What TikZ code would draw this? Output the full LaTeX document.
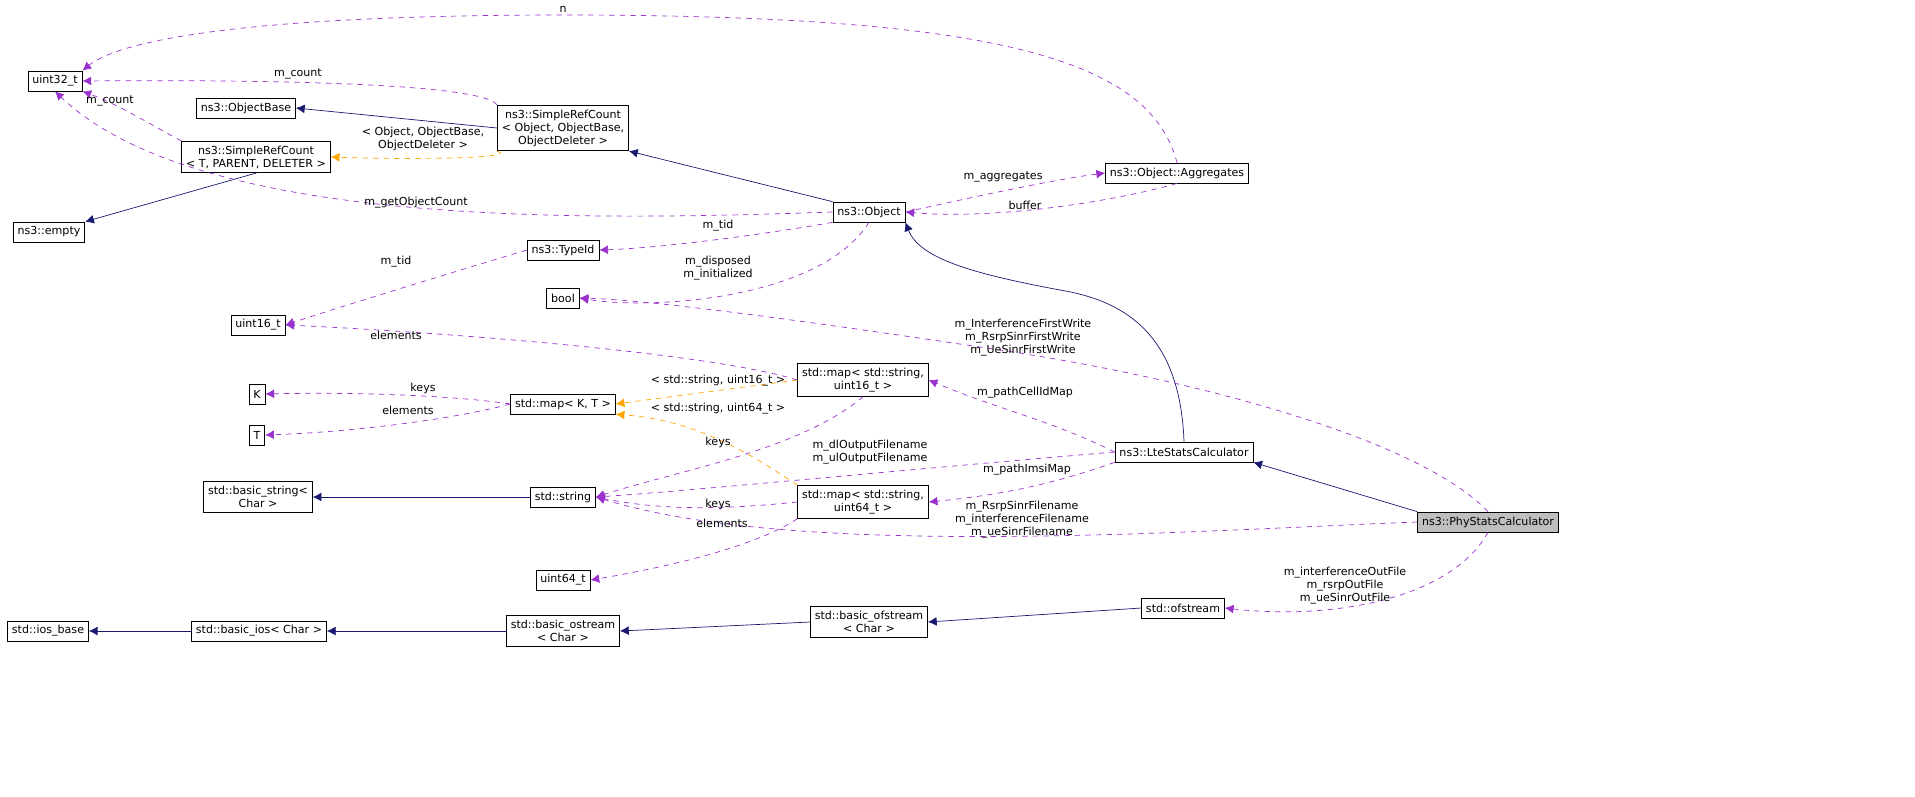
\documentclass[tikz,border=0pt]{standalone}
\usepackage{fontspec}
\setmainfont{DejaVu Sans}
\usetikzlibrary{arrows.meta}

\definecolor{inhblue}{HTML}{191970}
\definecolor{usepurple}{HTML}{9A32CD}
\definecolor{tplorange}{HTML}{FFA500}

\tikzset{
  cls/.style={draw,thin,fill=white,font=\fontsize{6.3}{7.4}\selectfont,align=center,minimum height=0.4cm,inner sep=2.5pt},
  inh/.style={draw=inhblue,thin,-{Latex[length=5pt,width=5pt]}},
  use/.style={draw=usepurple,thin,dashed,-{Latex[length=5pt,width=5pt]}},
  tpl/.style={draw=tplorange,thin,dashed,-{Latex[length=5pt,width=5pt]}},
  lbl/.style={font=\fontsize{6.3}{7.4}\selectfont,align=center,inner sep=0pt}
}

\begin{document}
\begin{tikzpicture}[x=0.02cm,y=-0.02cm]
\useasboundingbox (0,0) rectangle (1915,796);

% classes
\node[cls] (u32)    at (55,81)    {uint32\_t};
\node[cls] (objb)   at (246,108)  {ns3::ObjectBase};
\node[cls] (srcobj) at (563,128)  {ns3::SimpleRefCount\\< Object, ObjectBase,\\ObjectDeleter >};
\node[cls] (srct)   at (256,157)  {ns3::SimpleRefCount\\< T, PARENT, DELETER >};
\node[cls] (empty)  at (49,232)   {ns3::empty};
\node[cls] (obj)    at (869,212)  {ns3::Object};
\node[cls] (aggr)   at (1177,173) {ns3::Object::Aggregates};
\node[cls] (tid)    at (563,250)  {ns3::TypeId};
\node[cls] (bool)   at (563,298)  {bool};
\node[cls] (u16)    at (258,325)  {uint16\_t};
\node[cls] (K)      at (257,394)  {K};
\node[cls] (T)      at (257,435)  {T};
\node[cls] (mapkt)  at (563,404)  {std::map< K, T >};
\node[cls] (map16)  at (863,380)  {std::map< std::string,\\uint16\_t >};
\node[cls] (lte)    at (1184,452) {ns3::LteStatsCalculator};
\node[cls] (bstr)   at (258,497)  {std::basic\_string<\\Char >};
\node[cls] (str)    at (563,497)  {std::string};
\node[cls] (map64)  at (863,502)  {std::map< std::string,\\uint64\_t >};
\node[cls,fill=black!25] (phy) at (1488,522) {ns3::PhyStatsCalculator};
\node[cls] (u64)    at (563,580)  {uint64\_t};
\node[cls] (iosb)   at (48,631)   {std::ios\_base};
\node[cls] (bios)   at (259,631)  {std::basic\_ios< Char >};
\node[cls] (bos)    at (563,631)  {std::basic\_ostream\\< Char >};
\node[cls] (bofs)   at (869,622)  {std::basic\_ofstream\\< Char >};
\node[cls] (ofs)    at (1183,608) {std::ofstream};

% inheritance
\draw[inh] (srcobj.west) -- (objb.east);
\draw[inh] (srct.south) -- (empty.north east);
\draw[inh] (obj.north west) -- (srcobj.south east);
\draw[inh] (lte.north) .. controls (1180,330) and (1120,300) .. (1060,290) .. controls (980,275) and (920,260) .. (obj.south east);
\draw[inh] (phy.north west) -- (lte.south east);
\draw[inh] (str.west) -- (bstr.east);
\draw[inh] (bios.west) -- (iosb.east);
\draw[inh] (bos.west) -- (bios.east);
\draw[inh] (bofs.west) -- (bos.east);
\draw[inh] (ofs.west) -- (bofs.east);

% template instances
\draw[tpl] (srcobj.south west) .. controls (520,158) and (420,160) .. (srct.east);
\draw[tpl] (map16.west) -- (mapkt.east);
\draw[tpl] (map64.north west) .. controls (760,460) and (700,420) .. (mapkt.south east);

% usage
\draw[use] (aggr.north) .. controls (1150,60) and (1000,15) .. (563,15) .. controls (250,15) and (120,40) .. (u32.north east);
\draw[use] (srcobj.north west) .. controls (480,80) and (200,80) .. (u32.east);
\draw[use] (srct.north west) .. controls (160,130) and (120,105) .. (u32.south east);
\draw[use] (obj.west) .. controls (600,220) and (200,230) .. (u32.south);
\draw[use] (obj.east) .. controls (960,200) and (1050,180) .. (aggr.west);
\draw[use] (aggr.south) .. controls (1120,200) and (1000,220) .. (obj.east);
\draw[use] (obj.south west) .. controls (760,235) and (660,248) .. (tid.east);
\draw[use] (tid.west) .. controls (460,270) and (330,310) .. (u16.east);
\draw[use] (obj.south) .. controls (820,300) and (650,310) .. (bool.east);
\draw[use] (phy.north) .. controls (1420,440) and (1200,380) .. (1000,350) .. controls (800,320) and (650,300) .. (bool.east);
\draw[use] (map16.west) .. controls (700,350) and (400,330) .. (u16.east);
\draw[use] (mapkt.west) .. controls (450,395) and (350,392) .. (K.east);
\draw[use] (mapkt.west) .. controls (450,420) and (350,432) .. (T.east);
\draw[use] (map16.south) .. controls (800,450) and (680,470) .. (str.east);
\draw[use] (lte.west) .. controls (1050,420) and (1000,410) .. (map16.east);
\draw[use] (lte.west) .. controls (900,470) and (700,490) .. (str.east);
\draw[use] (lte.south west) .. controls (1050,485) and (1000,495) .. (map64.east);
\draw[use] (map64.west) .. controls (720,510) and (660,510) .. (str.east);
\draw[use] (map64.south west) .. controls (750,550) and (650,570) .. (u64.east);
\draw[use] (phy.west) .. controls (1200,530) and (800,560) .. (str.east);
\draw[use] (phy.south) .. controls (1450,600) and (1330,620) .. (ofs.east);

% labels
\node[lbl] at (563,9)   {n};
\node[lbl] at (298,74)  {m\_count};
\node[lbl] at (110,101) {m\_count};
\node[lbl] at (423,139) {< Object, ObjectBase,\\ObjectDeleter >};
\node[lbl] at (416,203) {m\_getObjectCount};
\node[lbl] at (1003,177){m\_aggregates};
\node[lbl] at (1025,205){buffer};
\node[lbl] at (718,226) {m\_tid};
\node[lbl] at (396,262) {m\_tid};
\node[lbl] at (718,268) {m\_disposed\\m\_initialized};
\node[lbl] at (1023,338){m\_InterferenceFirstWrite\\m\_RsrpSinrFirstWrite\\m\_UeSinrFirstWrite};
\node[lbl] at (396,335) {elements};
\node[lbl] at (423,388) {keys};
\node[lbl] at (408,410) {elements};
\node[lbl] at (718,381) {< std::string, uint16\_t >};
\node[lbl] at (718,409) {< std::string, uint64\_t >};
\node[lbl] at (1025,393){m\_pathCellIdMap};
\node[lbl] at (718,442) {keys};
\node[lbl] at (870,452) {m\_dlOutputFilename\\m\_ulOutputFilename};
\node[lbl] at (1027,470){m\_pathImsiMap};
\node[lbl] at (718,504) {keys};
\node[lbl] at (722,523) {elements};
\node[lbl] at (1022,520){m\_RsrpSinrFilename\\m\_interferenceFilename\\m\_ueSinrFilename};
\node[lbl] at (1345,586){m\_interferenceOutFile\\m\_rsrpOutFile\\m\_ueSinrOutFile};
\end{tikzpicture}
\end{document}
